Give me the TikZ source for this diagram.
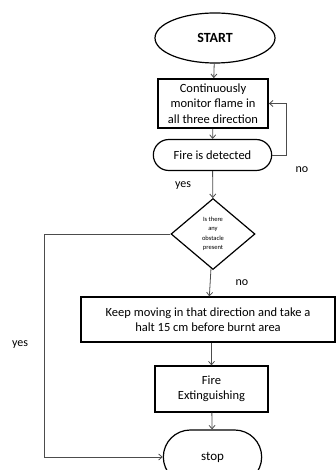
\documentclass[tikz,border=0pt]{standalone}
\usepackage{fontspec}
\setmainfont{Carlito}
\usetikzlibrary{arrows.meta}
\usetikzlibrary{shapes.geometric,shapes.misc}

\begin{document}
\begin{tikzpicture}[x=1pt, y=-1pt,
	>={Straight Barb[length=3.5pt,width=6pt]},
	seta/.style={->, draw=black!70, line width=0.8pt},
	caixa/.style={draw, rectangle, line width=1.2pt, align=center, inner sep=2pt, font=\fontsize{12.5}{15.5}\selectfont},
	capsula/.style={draw, rounded rectangle, line width=1.2pt, align=center, font=\fontsize{12.5}{15.5}\selectfont},
	rotulo/.style={font=\fontsize{12}{14}\selectfont}]
	\useasboundingbox (0,0) rectangle (335,470);

	% inicio
	\node[draw, ellipse, line width=1.2pt, minimum width=120, minimum height=50, inner sep=0pt,
		font=\fontsize{14}{16}\selectfont\bfseries] (start) at (215,38) {START};

	% monitorar
	\node[caixa, line width=1.8pt, minimum width=110, minimum height=49] (monitor) at (213,103.5)
		{Continuously\\monitor flame in\\all three direction};

	% fogo detectado
	\node[capsula, minimum width=125, minimum height=31] (detect) at (212.5,155) {Fire is detected};

	% obstaculo
	\node[draw, diamond, line width=1.2pt, aspect=1.18, minimum width=84, minimum height=71, inner sep=0pt,
		align=center, font=\fontsize{6.5}{9.5}\selectfont] (obst) at (213,234)
		{Is there\\any\\obstacle\\present};

	% seguir
	\node[caixa, minimum width=254, minimum height=45] (move) at (208,319.5)
		{Keep\ moving in that direction and take a\\halt 15 cm before burnt area};

	% extinguir
	\node[caixa, minimum width=113, minimum height=46] (fire) at (211.5,389) {Fire\\Extinguishing};

	% fim
	\node[capsula, minimum width=105, minimum height=54, font=\fontsize{13}{15}\selectfont] (stop) at (212.5,457) {stop};

	% setas
	\draw[seta] (start) -- (monitor);
	\draw[seta] (monitor) -- (detect);
	\draw[seta] (detect.east) -- ++(14,0) |- (monitor.east);
	\draw[seta] (detect) -- (obst);
	\draw[seta] (obst) -- (move);
	\draw[seta] (move.south -| fire.north) -- (fire);
	\draw[seta] (fire) -- (stop);
	\draw[seta] (obst.west) -- (44,234) |- (stop.west);

	% rotulos
	\node[rotulo] at (302,170) {no};
	\node[rotulo] at (183,186) {yes};
	\node[rotulo] at (242,283) {no};
	\node[rotulo] at (20,345) {yes};
\end{tikzpicture}
\end{document}
